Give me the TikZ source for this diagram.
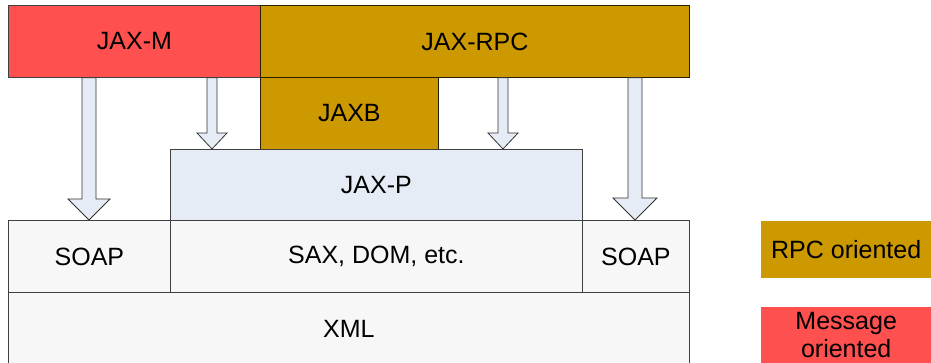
\documentclass[tikz,border=0pt]{standalone}
\usepackage{fontspec}
\setmainfont{Liberation Sans}
\usetikzlibrary{calc}

\definecolor{msgred}{HTML}{FF5050}
\definecolor{rpcgold}{HTML}{CC9900}
\definecolor{parsblue}{HTML}{E6ECF6}
\definecolor{basegray}{HTML}{F7F7F7}

% block arrow: start coordinate, target node anchor, shaft half, head half, head length
\newcommand{\blockarrow}[5]{%
  \draw[flowarrow] let \p1=(#1), \p2=(#1 |- #2) in
    (\x1-#3pt,\y1) -- (\x1+#3pt,\y1) -- (\x1+#3pt,\y2+#5pt) -- (\x1+#4pt,\y2+#5pt)
    -- (\x1,\y2) -- (\x1-#4pt,\y2+#5pt) -- (\x1-#3pt,\y2+#5pt) -- cycle;}

\begin{document}
\begin{tikzpicture}[
    x=1pt, y=-1pt,
    layer/.style={draw=black!75, line width=0.8pt, anchor=north west, inner sep=0pt,
      font=\fontsize{25}{29}\selectfont},
    legendbox/.style={anchor=north west, inner sep=0pt, align=center,
      font=\fontsize{25}{28}\selectfont},
    flowarrow/.style={draw=black!80, fill=parsblue, line width=0.8pt}
  ]
  \useasboundingbox (0,0) rectangle (931,363);

  %% ---- top: APIs ----
  \node[layer, fill=msgred, minimum width=252pt, minimum height=72pt] (jaxm) at (8,5) {JAX-M};
  \node[layer, fill=rpcgold, draw=black!80!rpcgold, minimum width=429pt, minimum height=72pt] (jaxrpc) at (260,5) {JAX-RPC};
  \node[layer, fill=rpcgold, draw=black!80!rpcgold, minimum width=178pt, minimum height=72pt] (jaxb) at (260,77) {JAXB};

  %% ---- middle: parsing ----
  \node[layer, fill=parsblue, minimum width=412pt, minimum height=71pt] (jaxp) at (170,149) {JAX-P};

  %% ---- bottom: formats ----
  \node[layer, fill=basegray, minimum width=162pt, minimum height=72pt] (soapl) at (8,220) {SOAP};
  \node[layer, fill=basegray, minimum width=412pt, minimum height=72pt] (sax) at (170,220) {SAX, DOM, etc.};
  \node[layer, fill=basegray, minimum width=107pt, minimum height=72pt] (soapr) at (582,220) {SOAP};
  \node[layer, fill=basegray, minimum width=681pt, minimum height=73pt] (xml) at (8,292) {XML};

  %% ---- arrows ----
  \path (jaxm.south west) ++(81,0) coordinate (a1);
  \path (jaxm.south west) ++(204,0) coordinate (a2);
  \path (jaxrpc.south west) ++(243,0) coordinate (a3);
  \path (jaxrpc.south west) ++(375,0) coordinate (a4);
  \blockarrow{a1}{soapl.north}{7}{21}{21}
  \blockarrow{a2}{jaxp.north}{5}{15}{16}
  \blockarrow{a3}{jaxp.north}{5}{15}{16}
  \blockarrow{a4}{soapr.north}{7}{22}{22}

  %% ---- legend ----
  \node[legendbox, fill=rpcgold, minimum width=170pt, minimum height=57pt] (legrpc) at (761,221) {RPC oriented};
  \node[legendbox, fill=msgred, minimum width=170pt, minimum height=56pt] (legmsg) at (761,307) {Message\\oriented};
\end{tikzpicture}
\end{document}
